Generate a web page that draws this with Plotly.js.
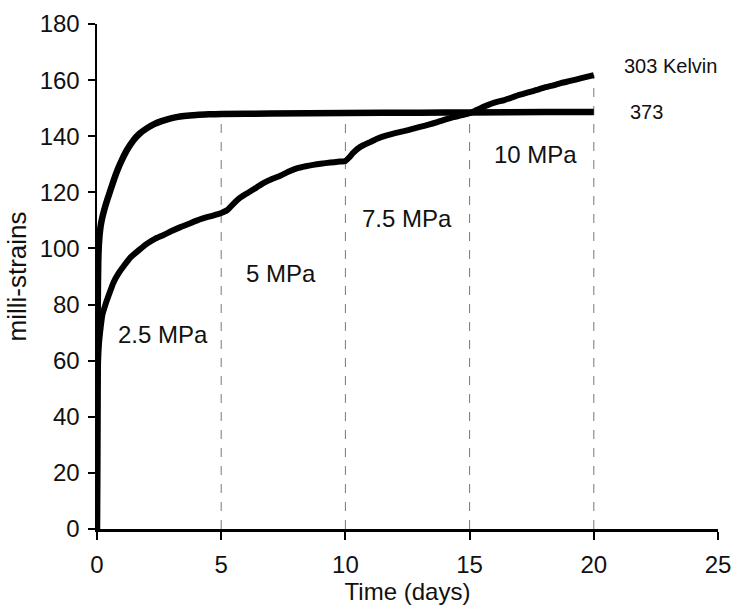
<!DOCTYPE html>
<html>
<head>
<meta charset="utf-8">
<script src="https://cdn.plot.ly/plotly-3.0.1.min.js"></script>
<style>html,body{margin:0;padding:0;background:#fff;}#chart{width:734px;height:606px;}</style>
</head>
<body>
<div id="chart"></div>
<script>
// 373 K series
var t373 = [0, 0.01, 0.02, 0.03, 0.05, 0.08, 0.14, 0.2, 0.3, 0.42, 0.55, 0.7, 0.85, 1.0, 1.2, 1.47, 1.7, 2.0, 2.3, 2.6, 2.9, 3.2, 3.5, 4.0, 4.5, 5.0, 7, 10, 13, 15, 18, 20];
var e373 = [0, 30, 60, 80, 95, 102, 107.6, 110.5, 114, 117.5, 121, 125, 128.5, 131.5, 135, 138.6, 140.8, 142.8, 144.3, 145.4, 146.2, 146.8, 147.2, 147.6, 147.8, 147.9, 148.1, 148.3, 148.4, 148.5, 148.6, 148.6];
// 303 K series
var t303 = [0, 0.01, 0.02, 0.04, 0.08, 0.15, 0.22, 0.34, 0.5, 0.66, 0.86, 1.1, 1.35, 1.7, 2.03, 2.35, 2.68, 3.0, 3.36, 3.7, 4.04, 4.5, 4.9, 5.05, 5.25, 5.5, 5.75, 6.05, 6.4, 6.7, 7.0, 7.4, 7.7, 8.07, 8.4, 8.7, 9.0, 9.4, 9.7, 10.0, 10.15, 10.3, 10.6, 11.0, 11.3, 11.7, 12.0, 12.35, 12.7, 13.0, 13.35, 13.7, 14.0, 14.35, 14.7, 15.0, 15.3, 15.7, 16.0, 16.4, 16.7, 17.0, 17.4, 17.7, 18.0, 18.4, 18.7, 19.05, 19.5, 20];
var e303 = [0, 20, 40, 58, 66, 72, 76.5, 80, 84, 87.8, 91, 94, 96.8, 99.5, 101.8, 103.5, 104.8, 106.2, 107.6, 108.8, 110, 111.3, 112.3, 112.8, 113.7, 116, 118, 119.7, 121.6, 123.3, 124.6, 126, 127.3, 128.6, 129.3, 129.8, 130.2, 130.6, 130.9, 131.2, 132.4, 134.0, 136.2, 137.9, 139.2, 140.4, 141.1, 141.8, 142.6, 143.3, 144.1, 145, 145.9, 146.8, 147.5, 148.2, 149.4, 151, 152, 152.9, 153.8, 154.7, 155.7, 156.5, 157.3, 158.2, 159, 159.7, 160.7, 161.8];
// load step boundaries (days) and top of their guide lines
var stepTimes = [5, 10, 15, 20];
var stepTops = [148, 148.3, 148.5, 161.8];
// stress labels
var stressText = ["2.5 MPa", "5 MPa", "7.5 MPa", "10 MPa"];
var stressX = [2.64, 7.42, 12.46, 17.64];
var stressY = [69.5, 90.9, 110.5, 133.6];
// series labels
var seriesText = ["303 Kelvin", "373"];
var seriesX = [21.15, 21.39];
var seriesY = [165, 148.6];

var xTicks = [0, 5, 10, 15, 20, 25];
var yTicks = [0, 20, 40, 60, 80, 100, 120, 140, 160, 180];

var FONT = "'Liberation Sans', Arial, sans-serif";

var traces = [
  {x: t373, y: e373, mode: "lines", line: {color: "#000", width: 6.5, shape: "spline", smoothing: 0.5}, hoverinfo: "skip"},
  {x: t303, y: e303, mode: "lines", line: {color: "#000", width: 6, shape: "spline", smoothing: 0.5}, hoverinfo: "skip"}
];

var shapes = stepTimes.map(function (t, i) {
  return {type: "line", xref: "x", yref: "y", x0: t, x1: t, y0: 0, y1: stepTops[i],
    line: {color: "#777", width: 1, dash: "dash"}, layer: "below"};
});

var annotations = [];
stressText.forEach(function (s, i) {
  annotations.push({x: stressX[i], y: stressY[i], xref: "x", yref: "y", text: s, showarrow: false,
    font: {family: FONT, size: 24, color: "#111"}, xanchor: "center", yanchor: "middle"});
});
seriesText.forEach(function (s, i) {
  annotations.push({x: seriesX[i], y: seriesY[i], xref: "x", yref: "y", text: s, showarrow: false,
    font: {family: FONT, size: 20, color: "#111"}, xanchor: "left", yanchor: "middle"});
});

var layout = {
  width: 734, height: 606,
  margin: {l: 97, r: 16, t: 24, b: 77},
  paper_bgcolor: "#fff", plot_bgcolor: "#fff",
  showlegend: false,
  font: {family: FONT, size: 24, color: "#111"},
  xaxis: {
    range: [0, 25], tickvals: xTicks, ticktext: xTicks.map(String),
    showgrid: false, zeroline: false, showline: true, linecolor: "#000", linewidth: 2.5,
    ticks: "outside", ticklen: 8, tickwidth: 2, tickcolor: "#000",
    ticklabelstandoff: 5,
    tickfont: {family: FONT, size: 24, color: "#111"},
    title: {text: "Time (days)", font: {family: FONT, size: 24, color: "#111"}, standoff: 2},
    fixedrange: true
  },
  yaxis: {
    range: [0, 180], tickvals: yTicks, ticktext: yTicks.map(String),
    showgrid: false, zeroline: false, showline: true, linecolor: "#000", linewidth: 2.5,
    ticks: "outside", ticklen: 7, tickwidth: 2, tickcolor: "#000",
    ticklabelstandoff: 3,
    tickfont: {family: FONT, size: 24, color: "#111"},
    title: {text: "milli-strains", font: {family: FONT, size: 26, color: "#111"}, standoff: 6},
    fixedrange: true
  },
  shapes: shapes,
  annotations: annotations
};

Plotly.newPlot("chart", traces, layout, {staticPlot: true, displayModeBar: false});
</script>
</body>
</html>
